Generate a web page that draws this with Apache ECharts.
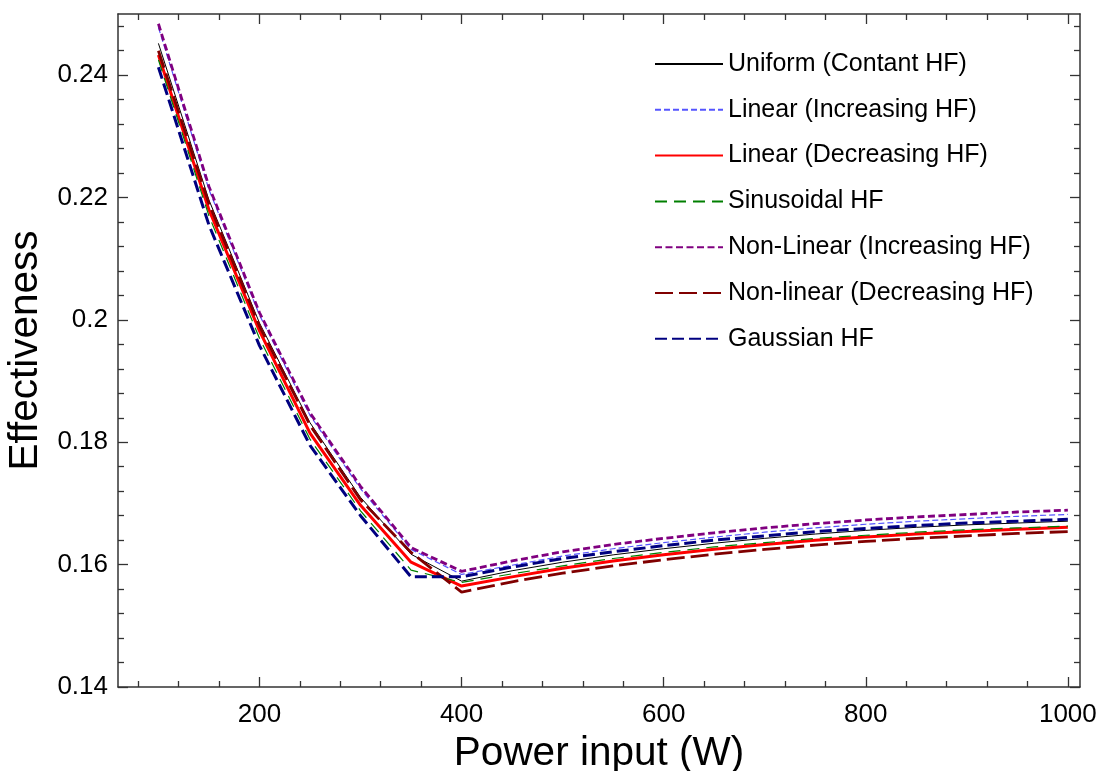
<!DOCTYPE html>
<html>
<head>
<meta charset="utf-8">
<script src="https://cdn.jsdelivr.net/npm/echarts@6/dist/echarts.min.js"></script>
<style>
html,body{margin:0;padding:0;background:#fff;}
#chart{width:1104px;height:771px;}
</style>
</head>
<body>
<div id="chart"></div>
<script>
const powerInput = [100,150,200,250,300,350,400,450,500,550,600,650,700,750,800,850,900,950,1000];
const seriesNames = ['Uniform (Contant HF)','Linear (Increasing HF)','Linear (Decreasing HF)','Sinusoidal HF','Non-Linear (Increasing HF)','Non-linear (Decreasing HF)','Gaussian HF'];
const uniformHF =      [0.2452,0.2196,0.1995,0.1832,0.1710,0.1617,0.1573,0.1590,0.1604,0.1616,0.1626,0.1635,0.1643,0.1650,0.1656,0.1661,0.1665,0.1668,0.1671];
const linearIncHF =    [0.2478,0.2213,0.2008,0.1844,0.1724,0.1625,0.1584,0.1599,0.1614,0.1626,0.1636,0.1645,0.1653,0.1660,0.1666,0.1671,0.1675,0.1679,0.1682];
const linearDecHF =    [0.2433,0.2180,0.1982,0.1815,0.1697,0.1604,0.1565,0.1580,0.1594,0.1606,0.1616,0.1625,0.1633,0.1640,0.1645,0.1650,0.1654,0.1658,0.1661];
const sinusoidalHF =   [0.2425,0.2170,0.1970,0.1805,0.1688,0.1591,0.1571,0.1585,0.1598,0.1610,0.1620,0.1629,0.1636,0.1643,0.1648,0.1653,0.1657,0.1660,0.1663];
const nonLinIncHF =    [0.2484,0.2218,0.2012,0.1848,0.1728,0.1628,0.1589,0.1606,0.1621,0.1633,0.1643,0.1652,0.1660,0.1667,0.1673,0.1678,0.1682,0.1686,0.1689];
const nonLinDecHF =    [0.2440,0.2190,0.1990,0.1828,0.1706,0.1620,0.1555,0.1572,0.1586,0.1598,0.1608,0.1617,0.1625,0.1632,0.1638,0.1643,0.1647,0.1651,0.1654];
const gaussianHF =     [0.2413,0.2155,0.1958,0.1795,0.1680,0.1580,0.1580,0.1596,0.1610,0.1621,0.1631,0.1640,0.1647,0.1654,0.1659,0.1664,0.1668,0.1671,0.1674];
const xTickLabels = [200,400,600,800,1000];
const yTickLabels = [0.14,0.16,0.18,0.2,0.22,0.24];

const X_MIN = 60, X_MAX = 1012, Y_MIN = 0.14, Y_MAX = 0.25;
const xMinor = [];
for (let v = 80; v < X_MAX; v += 40) { if (v % 200 !== 0) xMinor.push(v); }
const yMinor = [];
for (let k = 1; k * 0.004 + Y_MIN < Y_MAX - 1e-9; k++) { if (k % 5 !== 0) yMinor.push(Math.round((Y_MIN + k * 0.004) * 1000) / 1000); }

const FONT = 'Liberation Sans, Arial, sans-serif';
const AXC = '#333';

function mkX(pos, ticks, len, showLine, showLabel, extra) {
  return Object.assign({
    type: 'value', position: pos, min: X_MIN, max: X_MAX,
    axisLine: {show: showLine, onZero: false, lineStyle: {color: AXC, width: 1.5}},
    axisTick: {show: true, inside: true, length: len, customValues: ticks, lineStyle: {color: AXC, width: 1.3}},
    axisLabel: showLabel ? {show: true, customValues: ticks, formatter: v => String(v), fontSize: 26, color: '#000', fontFamily: FONT, margin: 15} : {show: false},
    splitLine: {show: false}
  }, extra || {});
}
function mkY(pos, ticks, len, showLine, showLabel, extra) {
  return Object.assign({
    type: 'value', position: pos, min: Y_MIN, max: Y_MAX,
    axisLine: {show: showLine, onZero: false, lineStyle: {color: AXC, width: 1.5}},
    axisTick: {show: true, inside: true, length: len, customValues: ticks, lineStyle: {color: AXC, width: 1.3}},
    axisLabel: showLabel ? {show: true, customValues: ticks, formatter: v => String(v), fontSize: 26, color: '#000', fontFamily: FONT, margin: 10} : {show: false},
    splitLine: {show: false}
  }, extra || {});
}

const styles = [
  {data: uniformHF,    color: '#000000', width: 1,   type: 'solid'},
  {data: linearIncHF,  color: '#5555ff', width: 1.2, type: [6, 3]},
  {data: linearDecHF,  color: '#ff0000', width: 3,   type: 'solid'},
  {data: sinusoidalHF, color: '#007f00', width: 1.2, type: [12, 7]},
  {data: nonLinIncHF,  color: '#800080', width: 2.8, type: [7, 3.5]},
  {data: nonLinDecHF,  color: '#800000', width: 2.8, type: [18, 6]},
  {data: gaussianHF,   color: '#000080', width: 3,   type: [12, 5]}
];

const series = styles.map((s, i) => ({
  name: seriesNames[i], type: 'line', xAxisIndex: 0, yAxisIndex: 0,
  data: powerInput.map((x, j) => [x, s.data[j]]),
  symbol: 'none', showSymbol: false, smooth: false, animation: false,
  lineStyle: {color: s.color, width: s.width, type: s.type},
  itemStyle: {color: s.color}
}));

const chart = echarts.init(document.getElementById('chart'), null, {renderer: 'canvas'});
chart.setOption({
  animation: false,
  backgroundColor: '#fff',
  grid: {left: 118, right: 24, top: 14, bottom: 84, containLabel: false, outerBoundsMode: 'none'},
  legend: {
    orient: 'vertical', left: 649, top: 46,
    itemWidth: 68, itemHeight: 14, itemGap: 19.8,
    itemStyle: {opacity: 0, borderWidth: 0},
    textStyle: {fontSize: 25, color: '#000', fontFamily: FONT, lineHeight: 26},
    data: seriesNames
  },
  xAxis: [
    mkX('bottom', xTickLabels, 10, true, true, {
      name: 'Power input (W)', nameLocation: 'middle', nameGap: 20,
      nameTextStyle: {fontSize: 40.5, color: '#000', fontFamily: FONT, verticalAlign: 'top'}
    }),
    mkX('bottom', xMinor, 6, false, false),
    mkX('top', xTickLabels, 10, true, false),
    mkX('top', xMinor, 6, false, false)
  ],
  yAxis: [
    mkY('left', yTickLabels, 10, true, true, {
      name: 'Effectiveness', nameLocation: 'middle', nameGap: 65,
      nameTextStyle: {fontSize: 40.5, color: '#000', fontFamily: FONT}
    }),
    mkY('left', yMinor, 6, false, false),
    mkY('right', yTickLabels, 10, true, false),
    mkY('right', yMinor, 6, false, false)
  ],
  series: series
});
</script>
</body>
</html>
